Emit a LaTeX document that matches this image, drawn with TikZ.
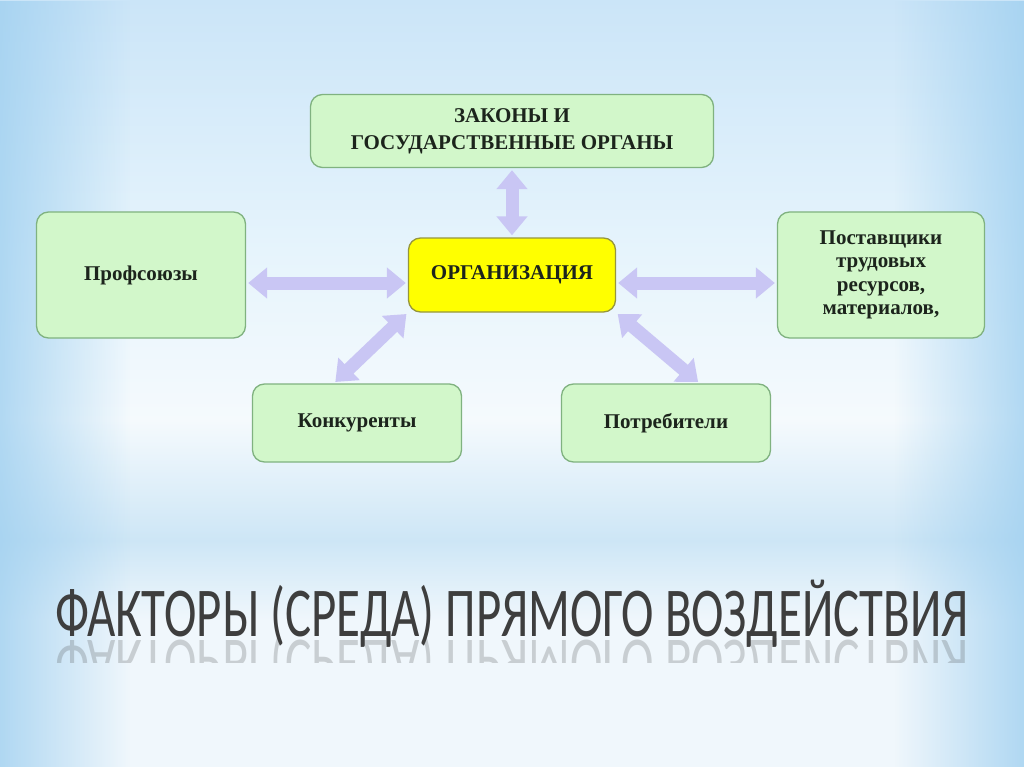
\documentclass[tikz,border=0pt]{standalone}
\usepackage{fontspec}
\usepackage{graphicx}
\setmainfont{Liberation Serif}
\newfontfamily\titlefont{Carlito}
\usetikzlibrary{
    arrows.meta,
    calc,
    fadings,
    positioning
}
\definecolor{boxgreen}{RGB}{210,247,202}
\definecolor{boxline}{RGB}{128,178,128}
\definecolor{orgyellow}{RGB}{255,255,0}
\definecolor{orgline}{RGB}{150,150,60}
\definecolor{arrowlav}{RGB}{201,198,244}
\definecolor{bgblue}{RGB}{160,208,240}
\definecolor{bga}{RGB}{203,229,248}
\definecolor{bgb}{RGB}{230,244,252}
\definecolor{bgc}{RGB}{245,250,253}
\definecolor{bgd}{RGB}{205,230,246}
\definecolor{bge}{RGB}{240,247,252}
\definecolor{textdark}{RGB}{28,36,28}
\definecolor{titlegray}{RGB}{62,62,62}

\tikzset{
    factor/.style={draw=boxline, fill=boxgreen, line width=1.3pt, rounded corners=12pt,
        minimum width=209pt, align=center, text=textdark,
        font=\fontsize{21}{23.5}\selectfont\bfseries},
    orgbox/.style={factor, draw=orgline, fill=orgyellow, minimum width=207pt, minimum height=74pt},
    dblarrow/.style={draw=arrowlav, line width=13pt,
        {Triangle[width=30pt,length=19pt]}-{Triangle[width=30pt,length=19pt]},
        shorten <=2pt, shorten >=2pt}
}

\begin{document}
\begin{tikzpicture}[x=1pt, y=-1pt]
    % background
    \useasboundingbox (0,0) rectangle (1024,767);
    \shade[top color=bga, bottom color=bgb] (0,0) rectangle (1024,251);
    \shade[top color=bgb, bottom color=bgc] (0,250) rectangle (1024,421);
    \shade[top color=bgc, bottom color=bgd] (0,420) rectangle (1024,541);
    \shade[top color=bgd, bottom color=bge] (0,540) rectangle (1024,621);
    \fill[bge] (0,620) rectangle (1024,767);
    \fill[bgblue, path fading=east, opacity=0.8] (0,0) rectangle (130,767);
    \fill[bgblue, path fading=west, opacity=0.8] (894,0) rectangle (1024,767);

    \node[factor, minimum width=403pt, minimum height=73pt,
        font=\fontsize{21}{27}\selectfont\bfseries] (nzak) at (512, 131)
        {ЗАКОНЫ И\\ГОСУДАРСТВЕННЫЕ ОРГАНЫ};
    \node[orgbox] (norg) at (512, 275) {ОРГАНИЗАЦИЯ};
    \node[factor, minimum height=126pt] (nprof) at (141, 275) {Профсоюзы};
    \node[factor, minimum width=207pt, minimum height=126pt] (npost) at (881, 275)
        {Поставщики\\трудовых\\ресурсов,\\материалов,};
    \node[factor, minimum height=78pt] (nkon) at (357, 423) {Конкуренты};
    \node[factor, minimum height=78pt] (npot) at (666, 423) {Потребители};

    \draw
    (norg.north) edge[dblarrow] (nzak.south)
    ([yshift=-8pt]nprof.east) edge[dblarrow] ([yshift=-8pt]norg.west)
    ([yshift=-8pt]norg.east) edge[dblarrow] ([yshift=-8pt]npost.west)
    ($(nkon.north west)!0.39!(nkon.north east)$) edge[dblarrow] (norg.south west)
    (norg.south east) edge[dblarrow] ($(npot.north west)!0.66!(npot.north east)$);

    % title and its reflection
    \node[anchor=base, inner sep=0pt, text=titlegray] (ntitle) at (512, 636)
        {\resizebox{913pt}{\height}{\fontsize{70}{70}\titlefont ФАКТОРЫ (СРЕДА) ПРЯМОГО ВОЗДЕЙСТВИЯ}};
    \begin{scope}
        \clip (0,638) rectangle (1024,662);
        \node[anchor=base, inner sep=0pt, text=titlegray, yscale=-1, opacity=0.22] (nrefl) at (512, 640)
            {\resizebox{913pt}{\height}{\fontsize{70}{70}\titlefont ФАКТОРЫ (СРЕДА) ПРЯМОГО ВОЗДЕЙСТВИЯ}};
    \end{scope}
\end{tikzpicture}
\end{document}
